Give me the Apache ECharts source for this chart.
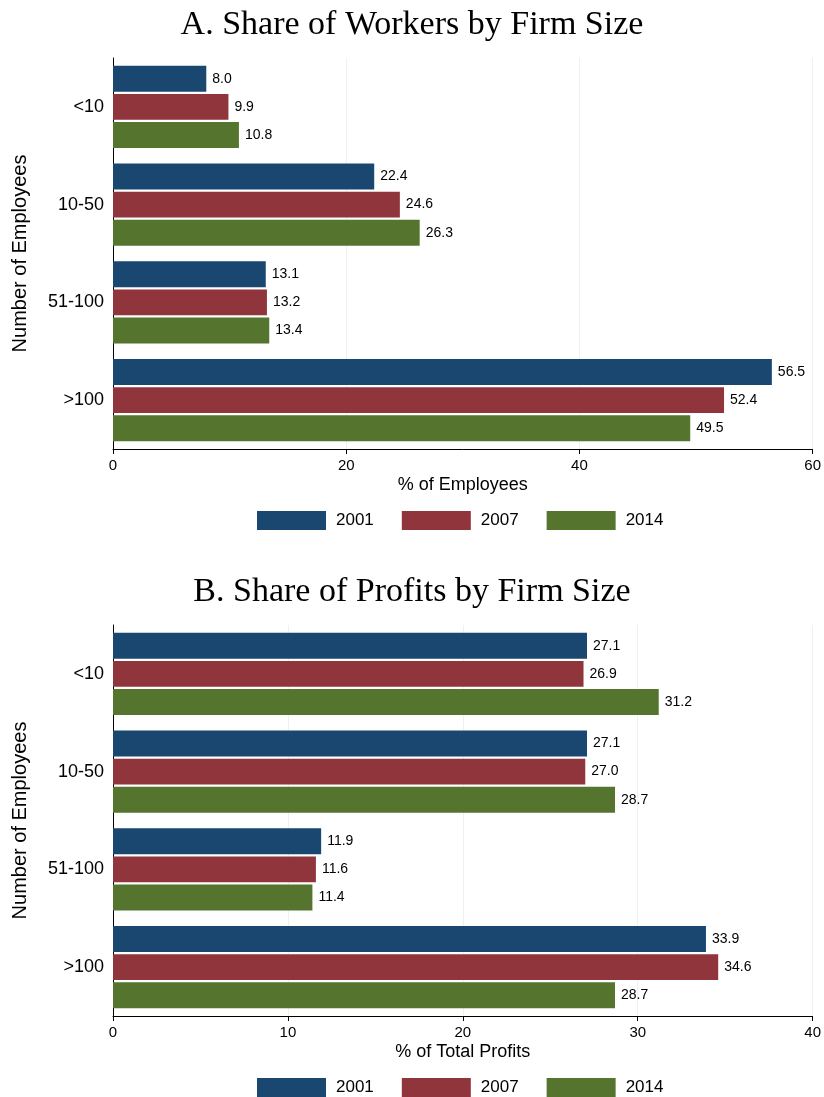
<!DOCTYPE html>
<html>
<head>
<meta charset="utf-8">
<script src="https://cdn.jsdelivr.net/npm/echarts@6/dist/echarts.min.js"></script>
<style>
  html, body { margin: 0; padding: 0; background: #fff; }
  #chart { width: 824px; height: 1097px; }
</style>
</head>
<body>
<div id="chart"></div>
<script>
// firm size shares, panel A workers / panel B profits
var sizes = ['<10', '10-50', '51-100', '>100'];
var years = ['2001', '2007', '2014'];
var colors = ['#1a476f', '#90353b', '#55752f'];

var workers2001 = [8.0, 22.4, 13.1, 56.5];
var workers2007 = [9.9, 24.6, 13.2, 52.4];
var workers2014 = [10.8, 26.3, 13.4, 49.5];

var profits2001 = [27.1, 27.1, 11.9, 33.9];
var profits2007 = [26.9, 27.0, 11.6, 34.6];
var profits2014 = [31.2, 28.7, 11.4, 28.7];

var workers = [workers2001, workers2007, workers2014];
var profits = [profits2001, profits2007, profits2014];

var sans = 'Liberation Sans, Arial, Helvetica, sans-serif';
var serif = 'Liberation Serif, DejaVu Serif, serif';

function xAxisFor(idx, max, step, name) {
    return {
        type: 'value',
        gridIndex: idx,
        min: 0,
        max: max,
        interval: step,
        name: name,
        nameLocation: 'middle',
        nameGap: 27,
        nameTextStyle: { fontFamily: sans, fontSize: 18, color: '#000' },
        axisLine: { show: true, lineStyle: { color: '#000', width: 1 } },
        axisTick: { show: true, length: 5, lineStyle: { color: '#000' } },
        axisLabel: { fontFamily: sans, fontSize: 15, color: '#000', margin: 9 },
        splitLine: { show: true, lineStyle: { color: '#eaf2f3', width: 1 } }
    };
}

function yAxisFor(idx) {
    return {
        type: 'category',
        gridIndex: idx,
        data: sizes,
        inverse: true,
        name: 'Number of Employees',
        nameLocation: 'middle',
        nameGap: 83,
        nameRotate: 90,
        nameTextStyle: { fontFamily: sans, fontSize: 20, color: '#000' },
        axisLine: { show: true, lineStyle: { color: '#000', width: 1 } },
        axisTick: { show: false },
        axisLabel: { fontFamily: sans, fontSize: 18, color: '#000', margin: 9 }
    };
}

var series = [];
[workers, profits].forEach(function (panel, p) {
    panel.forEach(function (vals, i) {
        series.push({
            name: years[i],
            type: 'bar',
            xAxisIndex: p,
            yAxisIndex: p,
            data: vals,
            barCategoryGap: '16%',
            barGap: '8%',
            itemStyle: { color: colors[i] },
            label: {
                show: true,
                position: 'right',
                distance: 6,
                fontFamily: sans,
                fontSize: 14,
                color: '#000',
                formatter: function (d) { return d.value.toFixed(1); }
            }
        });
    });
});

var legendBase = {
    data: years,
    left: 252,
    icon: 'rect',
    itemWidth: 69,
    itemHeight: 19,
    itemGap: 28,
    textStyle: { fontFamily: sans, fontSize: 17, color: '#000', padding: [0, 0, 0, 5] }
};

var myChart = echarts.init(document.getElementById('chart'));

var option = {
    backgroundColor: '#fff',
    animation: false,
    color: colors,
    title: [
        { text: 'A. Share of Workers by Firm Size', left: 'center', top: 3,
          textStyle: { fontFamily: serif, fontSize: 34, fontWeight: 'normal', color: '#000' } },
        { text: 'B. Share of Profits by Firm Size', left: 'center', top: 570,
          textStyle: { fontFamily: serif, fontSize: 34, fontWeight: 'normal', color: '#000' } }
    ],
    legend: [
        Object.assign({}, legendBase, { top: 506 }),
        Object.assign({}, legendBase, { top: 1073 })
    ],
    grid: [
        { left: 113, right: 11, top: 58, height: 391 },
        { left: 113, right: 11, top: 625, height: 391 }
    ],
    xAxis: [
        xAxisFor(0, 60, 20, '% of Employees'),
        xAxisFor(1, 40, 10, '% of Total Profits')
    ],
    yAxis: [yAxisFor(0), yAxisFor(1)],
    series: series
};

myChart.setOption(option);
</script>
</body>
</html>
